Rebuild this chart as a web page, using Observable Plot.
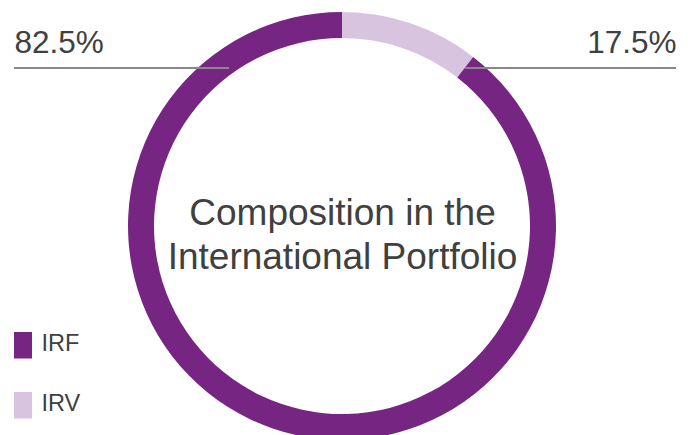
<!DOCTYPE html>
<html><head><meta charset="utf-8">
<script src="https://cdn.jsdelivr.net/npm/d3@7"></script>
<script src="https://cdn.jsdelivr.net/npm/@observablehq/plot@0.6"></script>
<style>
body{margin:0;background:#fff;font-family:"Liberation Sans",Arial,sans-serif;}
#wrap{position:relative;width:693px;height:435px;overflow:hidden;}
#wrap svg{position:absolute;left:0;top:0;}
.leader{position:absolute;height:1.6px;background:#888;top:67px;}
#legend{position:absolute;left:0;top:320px;}
</style></head><body><div id="wrap"></div>
<script>
// ---- data ----
const categories = ["IRF", "IRV"];
const shares = [89.5, 10.5];            // arc sizes as drawn in the picture
const shareLabels = ["82.5%", "17.5%"]; // labels as printed
const colors = ["#772583", "#d9c4e0"];
const titleLines = ["Composition in the", "International Portfolio"];

const data = categories.map((c, i) => ({category: c, value: shares[i]}));
// IRV starts at 12 o'clock, then IRF clockwise
const arcs = d3.pie().value(d => d.value).sort(null)(data.slice().reverse());

function donut(index, scales) {
  const cx = scales.x(0), cy = scales.y(0);
  const ro = scales.x(1) - cx, ri = ro * 0.8785;
  const arc = d3.arc().innerRadius(ri).outerRadius(ro);
  const color = scales.color || (c => colors[categories.indexOf(c)]);
  const g = d3.create("svg:g").attr("transform", `translate(${cx},${cy})`);
  g.selectAll("path").data(arcs).join("path")
    .attr("d", arc)
    .attr("fill", d => color(d.data.category));
  return g.node();
}

const chart = Plot.plot({
  width: 693, height: 435, margin: 0,
  style: {fontFamily: "'Liberation Sans', Arial, sans-serif", background: "transparent"},
  x: {domain: [-1, 1], range: [128, 556], axis: null},
  y: {domain: [-1, 1], range: [440, 12], axis: null},
  color: {domain: categories, range: colors},
  marks: [
    Plot.dot(data, {x: () => 0, y: () => 0, fill: "category", r: 0}),
    donut,
    Plot.text([titleLines.join("\n")], {x: 0, y: 0, text: d => d, fontSize: 37, lineHeight: 1.2, dy: 6.4, fill: "#404040"}),
    Plot.text([shareLabels[0]], {frameAnchor: "top-left", text: d => d, dx: 14, dy: 30, fontSize: 31.5, fill: "#404040"}),
    Plot.text([shareLabels[1]], {frameAnchor: "top-right", text: d => d, dx: -17, dy: 30, fontSize: 31.5, fill: "#404040"})
  ]
});

const wrap = document.getElementById("wrap");
wrap.appendChild(chart);

// leader lines under the percentage labels
[[14, 215], [465, 211]].forEach(([l, w]) => {
  const d = document.createElement("div");
  d.className = "leader";
  d.style.left = l + "px";
  d.style.width = w + "px";
  wrap.appendChild(d);
});

// legend
const cs = chart.scale("color");
const leg = d3.select(wrap).append("svg").attr("id", "legend").attr("width", 130).attr("height", 115)
  .style("top", "320px").style("left", "0px");
const items = leg.selectAll("g").data(cs.domain).join("g")
  .attr("transform", (d, i) => `translate(14,${12 + i * 60})`);
items.append("rect").attr("width", 18).attr("height", 26.5).attr("fill", (d, i) => cs.range[i]);
items.append("text").attr("x", 27.5).attr("y", 19.3).text(d => d)
  .attr("font-size", 23.5).attr("fill", "#404040")
  .attr("font-family", "'Liberation Sans', Arial, sans-serif");
</script></body></html>
